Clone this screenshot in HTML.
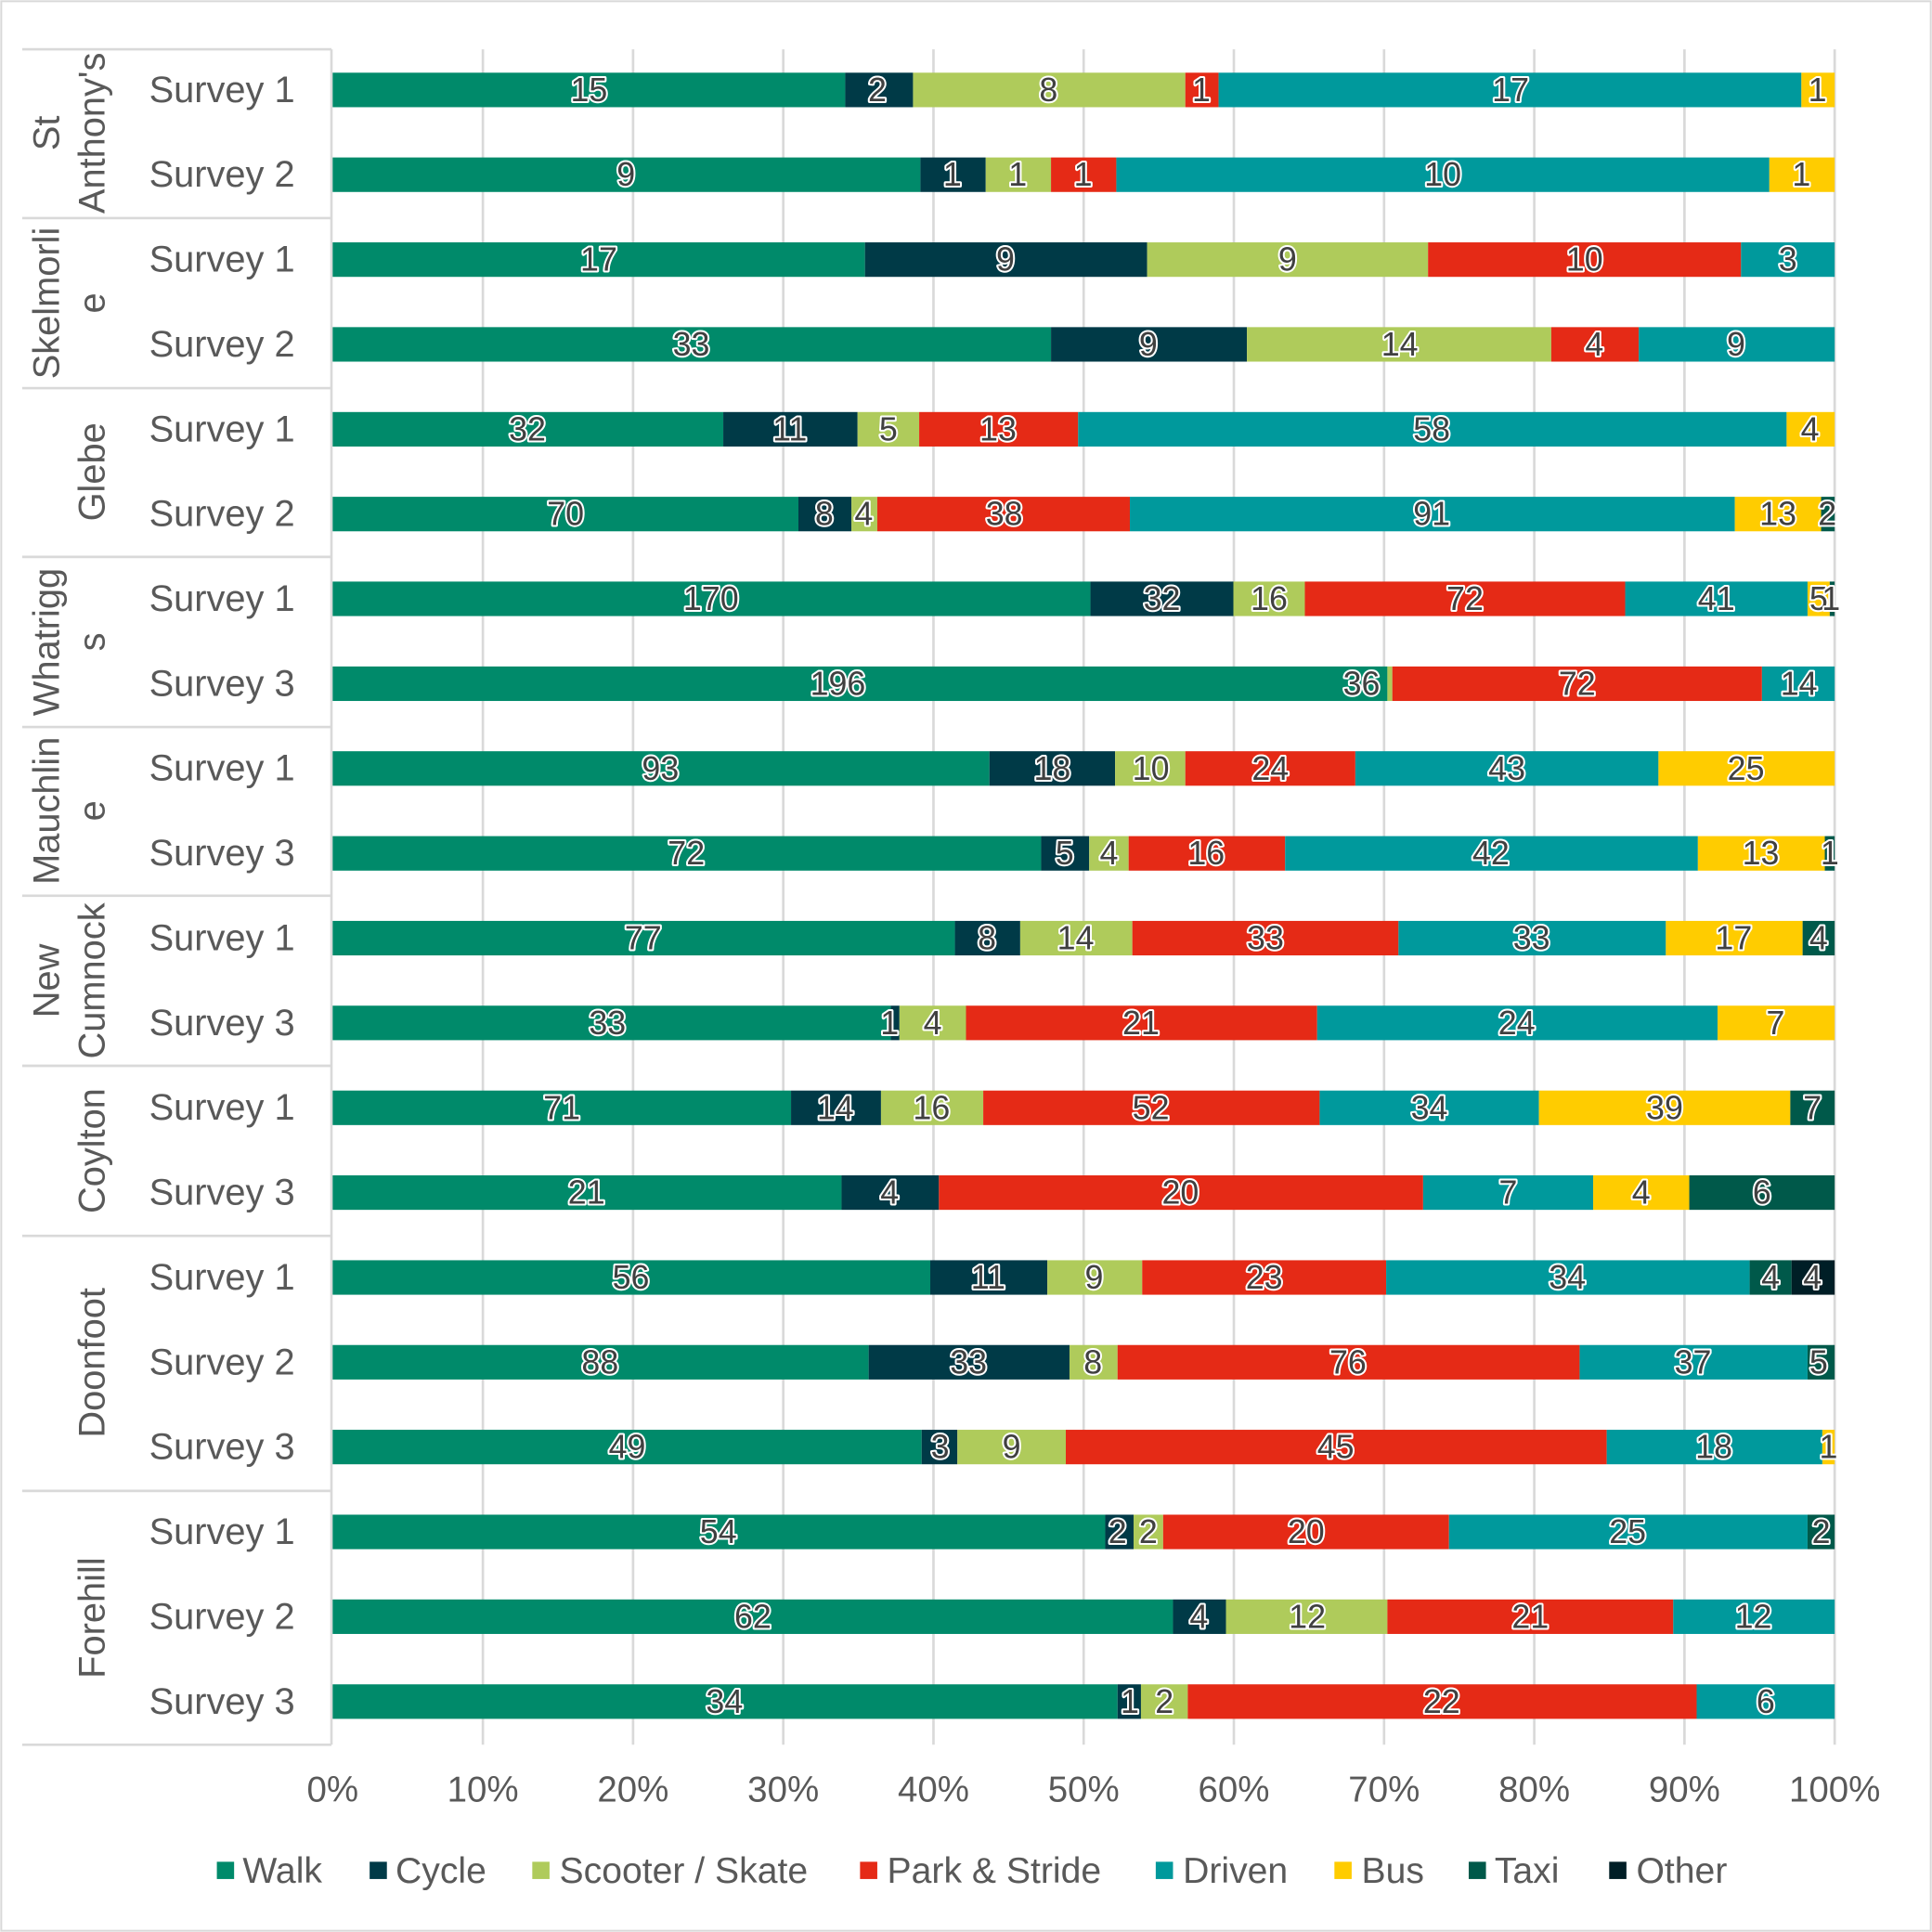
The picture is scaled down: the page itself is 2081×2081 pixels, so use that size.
<!DOCTYPE html>
<html><head><meta charset="utf-8"><style>
html,body{margin:0;padding:0;background:#fff}
svg{display:block}
text{font-family:"Liberation Sans",Arial,sans-serif}
.w{fill:#008A6A}.c{fill:#003A47}.s{fill:#AFCB5B}.p{fill:#E52A16}.d{fill:#00999C}.b{fill:#FFCC00}.t{fill:#00594A}.o{fill:#001E26}
.l{font-size:27px;fill:#404040;stroke:#fff;stroke-width:3px;paint-order:stroke;stroke-linejoin:round;text-anchor:middle;dominant-baseline:central}
.sv{font-size:30px;fill:#595959;dominant-baseline:central}
.g{font-size:30px;fill:#595959;text-anchor:middle;dominant-baseline:central}
.tk{font-size:29px;fill:#595959;text-anchor:middle}
.lg{font-size:29.5px;fill:#595959}
</style></head><body>
<svg width="2081" height="2081" viewBox="0 0 1568 1568" xmlns="http://www.w3.org/2000/svg">
<rect x="1" y="1" width="1566" height="1566" fill="#fff" stroke="#d9d9d9" stroke-width="1.5"/>
<g stroke="#d9d9d9" stroke-width="2">
<line x1="391.9" y1="40" x2="391.9" y2="1416"/><line x1="513.8" y1="40" x2="513.8" y2="1416"/><line x1="635.7" y1="40" x2="635.7" y2="1416"/><line x1="757.6" y1="40" x2="757.6" y2="1416"/><line x1="879.5" y1="40" x2="879.5" y2="1416"/><line x1="1001.4" y1="40" x2="1001.4" y2="1416"/><line x1="1123.3" y1="40" x2="1123.3" y2="1416"/><line x1="1245.2" y1="40" x2="1245.2" y2="1416"/><line x1="1367.1" y1="40" x2="1367.1" y2="1416"/><line x1="1489" y1="40" x2="1489" y2="1416"/>
<line x1="269" y1="40" x2="269" y2="1416"/>
<line x1="18" y1="40" x2="269" y2="40"/><line x1="18" y1="177" x2="269" y2="177"/><line x1="18" y1="315" x2="269" y2="315"/><line x1="18" y1="452" x2="269" y2="452"/><line x1="18" y1="590" x2="269" y2="590"/><line x1="18" y1="727" x2="269" y2="727"/><line x1="18" y1="865" x2="269" y2="865"/><line x1="18" y1="1003" x2="269" y2="1003"/><line x1="18" y1="1210" x2="269" y2="1210"/><line x1="18" y1="1416" x2="269" y2="1416"/>
</g>
<g>
<text class="g" transform="translate(38,108) rotate(-90)">St</text><text class="g" transform="translate(75,108) rotate(-90)">Anthony's</text>
<text class="g" transform="translate(38,246) rotate(-90)">Skelmorli</text><text class="g" transform="translate(75,246) rotate(-90)">e</text>
<text class="g" transform="translate(75,383) rotate(-90)">Glebe</text>
<text class="g" transform="translate(38,521) rotate(-90)">Whatrigg</text><text class="g" transform="translate(75,521) rotate(-90)">s</text>
<text class="g" transform="translate(38,658) rotate(-90)">Mauchlin</text><text class="g" transform="translate(75,658) rotate(-90)">e</text>
<text class="g" transform="translate(38,796) rotate(-90)">New</text><text class="g" transform="translate(75,796) rotate(-90)">Cumnock</text>
<text class="g" transform="translate(75,934) rotate(-90)">Coylton</text>
<text class="g" transform="translate(75,1106) rotate(-90)">Doonfoot</text>
<text class="g" transform="translate(75,1313) rotate(-90)">Forehill</text>
</g>
<g>
<text class="sv" x="121" y="73">Survey 1</text><text class="sv" x="121" y="141.8">Survey 2</text>
<text class="sv" x="121" y="210.7">Survey 1</text><text class="sv" x="121" y="279.5">Survey 2</text>
<text class="sv" x="121" y="348.4">Survey 1</text><text class="sv" x="121" y="417.2">Survey 2</text>
<text class="sv" x="121" y="486">Survey 1</text><text class="sv" x="121" y="554.9">Survey 3</text>
<text class="sv" x="121" y="623.7">Survey 1</text><text class="sv" x="121" y="692.6">Survey 3</text>
<text class="sv" x="121" y="761.4">Survey 1</text><text class="sv" x="121" y="830.2">Survey 3</text>
<text class="sv" x="121" y="899.1">Survey 1</text><text class="sv" x="121" y="967.9">Survey 3</text>
<text class="sv" x="121" y="1036.8">Survey 1</text><text class="sv" x="121" y="1105.6">Survey 2</text><text class="sv" x="121" y="1174.4">Survey 3</text>
<text class="sv" x="121" y="1243.3">Survey 1</text><text class="sv" x="121" y="1312.1">Survey 2</text><text class="sv" x="121" y="1381">Survey 3</text>
</g>
<g transform="translate(0,73)">
<rect class="w" x="270" y="-14" width="416" height="28"/><rect class="c" x="686" y="-14" width="55" height="28"/><rect class="s" x="741" y="-14" width="221" height="28"/><rect class="p" x="962" y="-14" width="27" height="28"/><rect class="d" x="989" y="-14" width="473" height="28"/><rect class="b" x="1462" y="-14" width="27" height="28"/>
<text class="l" x="478">15</text><text class="l" x="712">2</text><text class="l" x="851">8</text><text class="l" x="975">1</text><text class="l" x="1226">17</text><text class="l" x="1475">1</text></g>
<g transform="translate(0,141.8)">
<rect class="w" x="270" y="-14" width="477" height="28"/><rect class="c" x="747" y="-14" width="53" height="28"/><rect class="s" x="800" y="-14" width="53" height="28"/><rect class="p" x="853" y="-14" width="53" height="28"/><rect class="d" x="906" y="-14" width="530" height="28"/><rect class="b" x="1436" y="-14" width="53" height="28"/>
<text class="l" x="508">9</text><text class="l" x="773">1</text><text class="l" x="826">1</text><text class="l" x="879">1</text><text class="l" x="1171">10</text><text class="l" x="1462">1</text></g>
<g transform="translate(0,210.7)">
<rect class="w" x="270" y="-14" width="432" height="28"/><rect class="c" x="702" y="-14" width="229" height="28"/><rect class="s" x="931" y="-14" width="228" height="28"/><rect class="p" x="1159" y="-14" width="254" height="28"/><rect class="d" x="1413" y="-14" width="76" height="28"/>
<text class="l" x="486">17</text><text class="l" x="816">9</text><text class="l" x="1045">9</text><text class="l" x="1286">10</text><text class="l" x="1451">3</text></g>
<g transform="translate(0,279.5)">
<rect class="w" x="270" y="-14" width="583" height="28"/><rect class="c" x="853" y="-14" width="159" height="28"/><rect class="s" x="1012" y="-14" width="247" height="28"/><rect class="p" x="1259" y="-14" width="71" height="28"/><rect class="d" x="1330" y="-14" width="159" height="28"/>
<text class="l" x="561">33</text><text class="l" x="932">9</text><text class="l" x="1136">14</text><text class="l" x="1294">4</text><text class="l" x="1409">9</text></g>
<g transform="translate(0,348.4)">
<rect class="w" x="270" y="-14" width="317" height="28"/><rect class="c" x="587" y="-14" width="109" height="28"/><rect class="s" x="696" y="-14" width="50" height="28"/><rect class="p" x="746" y="-14" width="129" height="28"/><rect class="d" x="875" y="-14" width="575" height="28"/><rect class="b" x="1450" y="-14" width="39" height="28"/>
<text class="l" x="428">32</text><text class="l" x="641">11</text><text class="l" x="721">5</text><text class="l" x="810">13</text><text class="l" x="1162">58</text><text class="l" x="1469">4</text></g>
<g transform="translate(0,417.2)">
<rect class="w" x="270" y="-14" width="378" height="28"/><rect class="c" x="648" y="-14" width="43" height="28"/><rect class="s" x="691" y="-14" width="21" height="28"/><rect class="p" x="712" y="-14" width="205" height="28"/><rect class="d" x="917" y="-14" width="491" height="28"/><rect class="b" x="1408" y="-14" width="70" height="28"/><rect class="t" x="1478" y="-14" width="11" height="28"/>
<text class="l" x="459">70</text><text class="l" x="669">8</text><text class="l" x="701">4</text><text class="l" x="815">38</text><text class="l" x="1162">91</text><text class="l" x="1443">13</text><text class="l" x="1483">2</text></g>
<g transform="translate(0,486)">
<rect class="w" x="270" y="-14" width="615" height="28"/><rect class="c" x="885" y="-14" width="116" height="28"/><rect class="s" x="1001" y="-14" width="58" height="28"/><rect class="p" x="1059" y="-14" width="260" height="28"/><rect class="d" x="1319" y="-14" width="148" height="28"/><rect class="b" x="1467" y="-14" width="18" height="28"/><rect class="t" x="1485" y="-14" width="4" height="28"/>
<text class="l" x="577">170</text><text class="l" x="943">32</text><text class="l" x="1030">16</text><text class="l" x="1189">72</text><text class="l" x="1393">41</text><text class="l" x="1476">5</text><text class="l" x="1486">1</text></g>
<g transform="translate(0,554.9)">
<rect class="w" x="270" y="-14" width="856" height="28"/><rect class="s" x="1126" y="-14" width="4" height="28"/><rect class="p" x="1130" y="-14" width="300" height="28"/><rect class="d" x="1430" y="-14" width="59" height="28"/>
<text class="l" x="680">196</text><text class="l" x="1105">36</text><text class="l" x="1280">72</text><text class="l" x="1460">14</text></g>
<g transform="translate(0,623.7)">
<rect class="w" x="270" y="-14" width="533" height="28"/><rect class="c" x="803" y="-14" width="102" height="28"/><rect class="s" x="905" y="-14" width="57" height="28"/><rect class="p" x="962" y="-14" width="138" height="28"/><rect class="d" x="1100" y="-14" width="246" height="28"/><rect class="b" x="1346" y="-14" width="143" height="28"/>
<text class="l" x="536">93</text><text class="l" x="854">18</text><text class="l" x="934">10</text><text class="l" x="1031">24</text><text class="l" x="1223">43</text><text class="l" x="1417">25</text></g>
<g transform="translate(0,692.6)">
<rect class="w" x="270" y="-14" width="575" height="28"/><rect class="c" x="845" y="-14" width="39" height="28"/><rect class="s" x="884" y="-14" width="32" height="28"/><rect class="p" x="916" y="-14" width="127" height="28"/><rect class="d" x="1043" y="-14" width="335" height="28"/><rect class="b" x="1378" y="-14" width="103" height="28"/><rect class="t" x="1481" y="-14" width="8" height="28"/>
<text class="l" x="557">72</text><text class="l" x="864">5</text><text class="l" x="900">4</text><text class="l" x="979">16</text><text class="l" x="1210">42</text><text class="l" x="1429">13</text><text class="l" x="1485">1</text></g>
<g transform="translate(0,761.4)">
<rect class="w" x="270" y="-14" width="505" height="28"/><rect class="c" x="775" y="-14" width="53" height="28"/><rect class="s" x="828" y="-14" width="91" height="28"/><rect class="p" x="919" y="-14" width="216" height="28"/><rect class="d" x="1135" y="-14" width="217" height="28"/><rect class="b" x="1352" y="-14" width="111" height="28"/><rect class="t" x="1463" y="-14" width="26" height="28"/>
<text class="l" x="522">77</text><text class="l" x="801">8</text><text class="l" x="873">14</text><text class="l" x="1027">33</text><text class="l" x="1243">33</text><text class="l" x="1407">17</text><text class="l" x="1476">4</text></g>
<g transform="translate(0,830.2)">
<rect class="w" x="270" y="-14" width="453" height="28"/><rect class="c" x="723" y="-14" width="7" height="28"/><rect class="s" x="730" y="-14" width="54" height="28"/><rect class="p" x="784" y="-14" width="285" height="28"/><rect class="d" x="1069" y="-14" width="325" height="28"/><rect class="b" x="1394" y="-14" width="95" height="28"/>
<text class="l" x="493">33</text><text class="l" x="722">1</text><text class="l" x="757">4</text><text class="l" x="926">21</text><text class="l" x="1231">24</text><text class="l" x="1441">7</text></g>
<g transform="translate(0,899.1)">
<rect class="w" x="270" y="-14" width="372" height="28"/><rect class="c" x="642" y="-14" width="73" height="28"/><rect class="s" x="715" y="-14" width="83" height="28"/><rect class="p" x="798" y="-14" width="273" height="28"/><rect class="d" x="1071" y="-14" width="178" height="28"/><rect class="b" x="1249" y="-14" width="204" height="28"/><rect class="t" x="1453" y="-14" width="36" height="28"/>
<text class="l" x="456">71</text><text class="l" x="678">14</text><text class="l" x="756">16</text><text class="l" x="934">52</text><text class="l" x="1160">34</text><text class="l" x="1351">39</text><text class="l" x="1471">7</text></g>
<g transform="translate(0,967.9)">
<rect class="w" x="270" y="-14" width="413" height="28"/><rect class="c" x="683" y="-14" width="79" height="28"/><rect class="p" x="762" y="-14" width="393" height="28"/><rect class="d" x="1155" y="-14" width="138" height="28"/><rect class="b" x="1293" y="-14" width="78" height="28"/><rect class="t" x="1371" y="-14" width="118" height="28"/>
<text class="l" x="476">21</text><text class="l" x="722">4</text><text class="l" x="958">20</text><text class="l" x="1224">7</text><text class="l" x="1332">4</text><text class="l" x="1430">6</text></g>
<g transform="translate(0,1036.8)">
<rect class="w" x="270" y="-14" width="485" height="28"/><rect class="c" x="755" y="-14" width="95" height="28"/><rect class="s" x="850" y="-14" width="77" height="28"/><rect class="p" x="927" y="-14" width="198" height="28"/><rect class="d" x="1125" y="-14" width="295" height="28"/><rect class="t" x="1420" y="-14" width="34" height="28"/><rect class="o" x="1454" y="-14" width="35" height="28"/>
<text class="l" x="512">56</text><text class="l" x="802">11</text><text class="l" x="888">9</text><text class="l" x="1026">23</text><text class="l" x="1272">34</text><text class="l" x="1437">4</text><text class="l" x="1471">4</text></g>
<g transform="translate(0,1105.6)">
<rect class="w" x="270" y="-14" width="435" height="28"/><rect class="c" x="705" y="-14" width="163" height="28"/><rect class="s" x="868" y="-14" width="39" height="28"/><rect class="p" x="907" y="-14" width="375" height="28"/><rect class="d" x="1282" y="-14" width="185" height="28"/><rect class="t" x="1467" y="-14" width="22" height="28"/>
<text class="l" x="487">88</text><text class="l" x="786">33</text><text class="l" x="887">8</text><text class="l" x="1094">76</text><text class="l" x="1374">37</text><text class="l" x="1476">5</text></g>
<g transform="translate(0,1174.4)">
<rect class="w" x="270" y="-14" width="478" height="28"/><rect class="c" x="748" y="-14" width="29" height="28"/><rect class="s" x="777" y="-14" width="88" height="28"/><rect class="p" x="865" y="-14" width="439" height="28"/><rect class="d" x="1304" y="-14" width="175" height="28"/><rect class="b" x="1479" y="-14" width="10" height="28"/>
<text class="l" x="509">49</text><text class="l" x="763">3</text><text class="l" x="821">9</text><text class="l" x="1084">45</text><text class="l" x="1391">18</text><text class="l" x="1484">1</text></g>
<g transform="translate(0,1243.3)">
<rect class="w" x="270" y="-14" width="627" height="28"/><rect class="c" x="897" y="-14" width="23" height="28"/><rect class="s" x="920" y="-14" width="24" height="28"/><rect class="p" x="944" y="-14" width="232" height="28"/><rect class="d" x="1176" y="-14" width="291" height="28"/><rect class="t" x="1467" y="-14" width="22" height="28"/>
<text class="l" x="583">54</text><text class="l" x="907">2</text><text class="l" x="932">2</text><text class="l" x="1060">20</text><text class="l" x="1321">25</text><text class="l" x="1478">2</text></g>
<g transform="translate(0,1312.1)">
<rect class="w" x="270" y="-14" width="682" height="28"/><rect class="c" x="952" y="-14" width="43" height="28"/><rect class="s" x="995" y="-14" width="131" height="28"/><rect class="p" x="1126" y="-14" width="232" height="28"/><rect class="d" x="1358" y="-14" width="131" height="28"/>
<text class="l" x="611">62</text><text class="l" x="973">4</text><text class="l" x="1061">12</text><text class="l" x="1242">21</text><text class="l" x="1423">12</text></g>
<g transform="translate(0,1381)">
<rect class="w" x="270" y="-14" width="637" height="28"/><rect class="c" x="907" y="-14" width="19" height="28"/><rect class="s" x="926" y="-14" width="38" height="28"/><rect class="p" x="964" y="-14" width="413" height="28"/><rect class="d" x="1377" y="-14" width="112" height="28"/>
<text class="l" x="588">34</text><text class="l" x="917">1</text><text class="l" x="945">2</text><text class="l" x="1170">22</text><text class="l" x="1433">6</text></g>
<g>
<text class="tk" x="270" y="1462">0%</text><text class="tk" x="391.9" y="1462">10%</text><text class="tk" x="513.8" y="1462">20%</text><text class="tk" x="635.7" y="1462">30%</text><text class="tk" x="757.6" y="1462">40%</text><text class="tk" x="879.5" y="1462">50%</text><text class="tk" x="1001.4" y="1462">60%</text><text class="tk" x="1123.3" y="1462">70%</text><text class="tk" x="1245.2" y="1462">80%</text><text class="tk" x="1367.1" y="1462">90%</text><text class="tk" x="1489" y="1462">100%</text>
</g>
<g>
<rect class="w" x="176" y="1511" width="14" height="14"/><text class="lg" x="197" y="1528">Walk</text>
<rect class="c" x="300" y="1511" width="14" height="14"/><text class="lg" x="321" y="1528">Cycle</text>
<rect class="s" x="432" y="1511" width="14" height="14"/><text class="lg" x="454" y="1528">Scooter / Skate</text>
<rect class="p" x="698" y="1511" width="14" height="14"/><text class="lg" x="720" y="1528">Park &amp; Stride</text>
<rect class="d" x="938" y="1511" width="14" height="14"/><text class="lg" x="960" y="1528">Driven</text>
<rect class="b" x="1083" y="1511" width="14" height="14"/><text class="lg" x="1105" y="1528">Bus</text>
<rect class="t" x="1192" y="1511" width="14" height="14"/><text class="lg" x="1213" y="1528">Taxi</text>
<rect class="o" x="1306" y="1511" width="14" height="14"/><text class="lg" x="1328" y="1528">Other</text>
</g>
</svg>
</body></html>
